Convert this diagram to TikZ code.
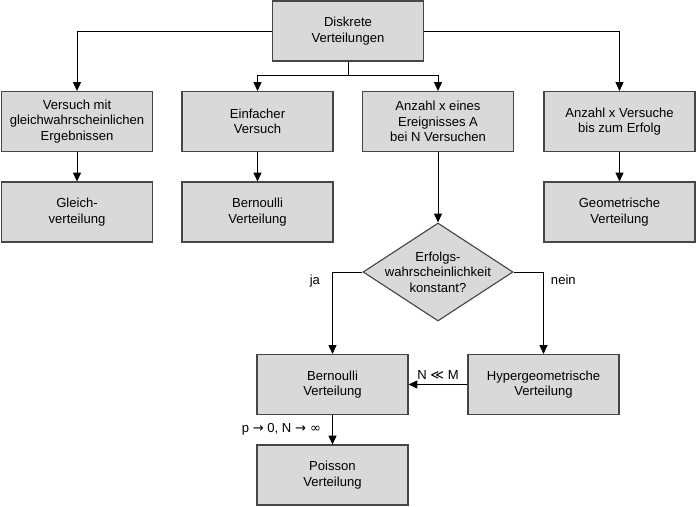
\documentclass[tikz,border=0pt]{standalone}
\usepackage{fontspec}
\setmainfont{Liberation Sans}
\newfontfamily\dejavu{DejaVu Sans}
\usepackage{tikz}
\usetikzlibrary{arrows.meta,shapes,positioning}
\definecolor{boxfill}{RGB}{217,217,217}
\definecolor{boxline}{RGB}{70,70,70}

\begin{document}
\begin{tikzpicture}
    \tikzset{vertex/.style = {shape=rectangle,draw=boxline,fill=boxfill,line width=0.8pt,align=center,minimum width=3.775cm,minimum height=1.5cm,inner sep=0pt,font=\fontsize{9.3}{11}\selectfont}}
    \tikzset{decision/.style = {vertex,shape=diamond,aspect=1.53,minimum width=3.75cm,minimum height=2.45cm,inner xsep=0pt,inner ysep=-1.5mm}}
    \tikzset{edge/.style = {-{Triangle[width=2mm,length=2.2mm]},line width=0.7pt}}
    \tikzset{tag/.style = {inner sep=0pt,font=\fontsize{9.3}{11}\selectfont}}
    \useasboundingbox (0,0) rectangle (17.4,-12.675);
    % vertices
    \node[vertex] (1) at (8.7,-0.775) {Diskrete\\ Verteilungen};
    \node[vertex] (2) at (1.925,-3.0375) {Versuch mit\\ gleichwahrscheinlichen\\ Ergebnissen};
    \node[vertex] (3) at (6.4375,-3.0375) {Einfacher\\ Versuch};
    \node[vertex] (4) at (10.95,-3.0375) {Anzahl x eines\\ Ereignisses A\\ bei N Versuchen};
    \node[vertex] (5) at (15.4875,-3.0375) {Anzahl x Versuche\\ bis zum Erfolg};
    \node[vertex] (6) at (1.925,-5.3) {Gleich-\\ verteilung};
    \node[vertex] (7) at (6.4375,-5.3) {Bernoulli\\ Verteilung};
    \node[vertex] (8) at (15.4875,-5.3) {Geometrische\\ Verteilung};
    \node[decision] (9) at (10.95,-6.8) {Erfolgs-\\ wahrscheinlichkeit\\ konstant?};
    \node[vertex] (10) at (8.3125,-9.6125) {Bernoulli\\ Verteilung};
    \node[vertex] (11) at (13.5875,-9.6125) {Hypergeometrische\\ Verteilung};
    \node[vertex] (12) at (8.3125,-11.875) {Poisson\\ Verteilung};
    \coordinate (g) at (8.7,-1.875);
    % edges
    \draw[edge] (1) -| (2);
    \draw[edge] (1) -| (5);
    \draw[line width=0.7pt] (1) -- (g);
    \draw[edge] (g) -| (3);
    \draw[edge] (g) -| (4);
    \draw[edge] (2) -- (6);
    \draw[edge] (3) -- (7);
    \draw[edge] (5) -- (8);
    \draw[edge] (4) -- (9);
    \draw[edge] (9) -| (10) node[tag,pos=0.5,below left=0.75mm and 3mm] {ja};
    \draw[edge] (9) -| (11) node[tag,pos=0.5,below right=0.75mm and 1.75mm] {nein};
    \draw[edge] (11) -- (10) node[tag,midway,above=1.2mm] {N {\dejavu ≪} M};
    \draw[edge] (10) -- (12) node[tag,midway,left=2.75mm] {p {\dejavu →} 0, N {\dejavu → ∞}};
\end{tikzpicture}
\end{document}
